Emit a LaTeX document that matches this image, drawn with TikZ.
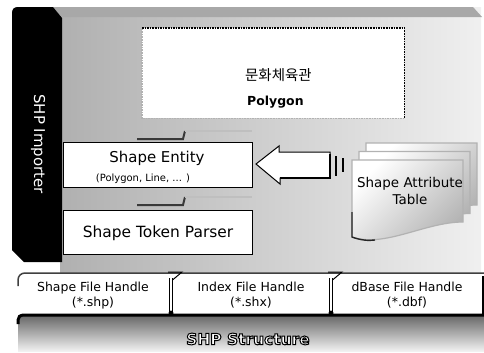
\documentclass[tikz,border=0pt]{standalone}
\usepackage{fontspec}
\setmainfont{DejaVu Sans}
\newfontfamily\krfont{Noto Sans CJK KR}
\newfontfamily\outlinefont[FakeBold=6.5]{DejaVu Sans Bold}
\begin{document}
\begin{tikzpicture}[x=1bp,y=-1bp,
  whitebox/.style={draw=black, line width=1bp, fill=white, inner sep=0pt, anchor=north west},
  stepline/.style={gray!45!black, line width=2bp},
  steplight/.style={gray!50, line width=2bp},
  pagesheet/.style={draw=gray!60, line width=1.2bp, top color=white, bottom color=gray!60, shading angle=45},
  handle/.style={font=\fontsize{12.5}{15}\selectfont, align=center, inner sep=0pt},
  sepline/.style={line width=0.7bp},
  structfont/.style={font=\outlinefont\fontsize{15.5}{17}\selectfont, inner sep=0pt}
]
\useasboundingbox (0,0) rectangle (484,352);
\fill[white] (0,0) rectangle (484,352);

% gray panel
\shade[left color=gray!62, right color=gray!12] (60,7) rectangle (481,272);
\fill[gray!68] (53,7) -- (473,7) -- (482,17) -- (60,17) -- cycle;

% black importer bar
\fill[black] (12,250) -- (12,13) .. controls (12,9) and (14,7) .. (18,7) -- (53,7) -- (62,18) -- (62,262) -- (24,262) -- cycle;
\node[rotate=-90, text=white, font=\fontsize{15}{18}\selectfont, inner sep=0pt] (imp) at (38,144) {SHP Importer};

% dotted polygon area
\node[fill=white, minimum width=262bp, minimum height=90bp, inner sep=0pt, anchor=north west] (polybox) at (142,28) {};
\draw[black, densely dotted, line width=1.6bp] (polybox.north west) -- (polybox.north east) -- (polybox.south east);
\draw[gray!60, densely dotted, line width=1.6bp] (polybox.south east) -- (polybox.south west) -- (polybox.north west);
\node[anchor=west, inner sep=0pt, font=\krfont\fontsize{14.5}{17}\selectfont] (kor) at (245,75) {문화체육관};
\node[anchor=west, inner sep=0pt, font=\bfseries\fontsize{12.5}{15}\selectfont] (polyg) at (247,102) {Polygon};

% step decorations
\draw[stepline] (137,139) -- (183,139) -- (185,131);
\draw[steplight] (185,131) -- (252,131);
\draw[stepline] (137,205) -- (183,205) -- (185,197);
\draw[steplight] (185,197) -- (252,197);

% boxes
\node[whitebox, minimum width=189bp, minimum height=45bp] (entity) at (63,142) {};
\node[font=\fontsize{15}{18}\selectfont, inner sep=0pt] (entityT) at (157,158) {Shape Entity};
\node[font=\fontsize{10}{12}\selectfont, inner sep=0pt] (entityS) at (143,179) {(Polygon, Line, ... )};
\node[whitebox, minimum width=189bp, minimum height=44bp] (parser) at (63,210) {};
\node[font=\fontsize{15.5}{18}\selectfont, inner sep=0pt] (parserT) at (158,233) {Shape Token Parser};

% document stack
\shade[pagesheet] (366,143) -- (477,143) -- (477,205) .. controls (439,205) and (399,231) .. (366,220) -- cycle;
\shade[pagesheet] (359,151.5) -- (470,151.5) -- (470,213.5) .. controls (432,213.5) and (392,239.5) .. (359,228.5) -- cycle;
\shade[pagesheet] (352,160) -- (463,160) -- (463,222) .. controls (425,222) and (385,248) .. (352,237) -- cycle;
\draw[gray!30!black, line width=1.4bp] (352,212) -- (352,237) .. controls (360,240) and (368,241) .. (375,240);
\node[font=\fontsize{13.5}{17}\selectfont, align=center, inner sep=0pt] (attr) at (410,191) {Shape Attribute\\Table};

% block arrow
\draw[fill=white, line width=1bp, line join=miter] (256,164) -- (279,146) -- (279,152) -- (330,152) -- (330,178) -- (280,178) -- (280,184) -- cycle;
\draw[line width=2.5bp] (280,178) -- (330,178);
\draw[line width=1.6bp] (330,154) -- (330,179) (336,156) -- (336,176) (343,158) -- (343,172);

% file handle row
\fill[white] (18,320) -- (18,280) .. controls (18,276) and (21,273) .. (25,273) -- (484,273) -- (484,320) -- cycle;
\draw[gray!50!black, line width=1.5bp] (18,286) -- (18,280) .. controls (18,276) and (21,273) .. (25,273) -- (484,273);
\draw[line width=1.2bp] (483,276) -- (483,315);
\node[handle] (hshp) at (93,295.5) {Shape File Handle\\(*.shp)};
\node[handle] (hshx) at (251,295.5) {Index File Handle\\(*.shx)};
\node[handle] (hdbf) at (407,295.5) {dBase File Handle\\(*.dbf)};
\foreach \sx in {171,331} {
  \draw[sepline] (\sx-1.5,278) -- (\sx-1.5,313) (\sx+1.5,278) -- (\sx+1.5,313);
  \draw[line width=1bp] (\sx-3,272) -- (\sx+11,272) -- (\sx+1.5,280);
  \fill (\sx,313) circle (2.5bp);
}

% SHP structure bar
\shade[top color=gray!80!black, middle color=gray!40, bottom color=gray!8] (18,352) -- (18,320) .. controls (18,317) and (20,315) .. (24,315) -- (484,315) -- (484,352) -- cycle;
\draw[line width=3bp] (18,324) -- (18,320) .. controls (18,317) and (20,315) .. (24,315) -- (484,315);
\node[structfont] (struct) at (248,339) {\special{pdf:code 1 g}SHP Structure};
\end{tikzpicture}
\end{document}
